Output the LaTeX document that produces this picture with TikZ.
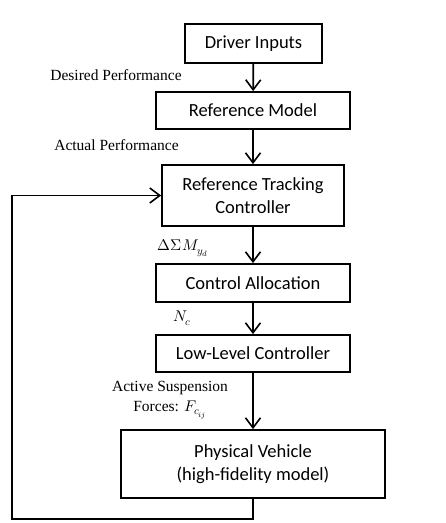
\documentclass[tikz,border=0pt]{standalone}
\usepackage{fontspec}
\usepackage{unicode-math}
\setmainfont{Carlito}
\setmathfont{Latin Modern Math}
\newfontfamily\labelfont{Liberation Serif}
\usetikzlibrary{arrows.meta}

\begin{document}
\begin{tikzpicture}[x=1pt,y=1pt,line width=1.8pt,
    -{Straight Barb[length=10pt,width=15pt,line width=1.6pt]}]
    \tikzstyle{block}=[draw,rectangle,inner sep=0pt,align=center,
        font=\fontsize{18.5}{23}\selectfont]
    \tikzstyle{annot}=[align=center,font=\labelfont\fontsize{15.5}{20}\selectfont]

    \useasboundingbox (0,0) rectangle (446,-523);

    % Draw the blocks of the loop
    \node[block,minimum width=137pt,minimum height=39pt] (drv) at (253.5,-43.5) {Driver Inputs};
    \node[block,minimum width=194pt,minimum height=37pt] (refm) at (253,-110.5) {Reference Model};
    \node[block,minimum width=182pt,minimum height=61pt] (rtc) at (253,-195.5) {Reference Tracking\\Controller};
    \node[block,minimum width=194pt,minimum height=38pt] (calloc) at (253,-283) {Control Allocation};
    \node[block,minimum width=194pt,minimum height=37pt] (llc) at (253,-353.5) {Low-Level Controller};
    \node[block,minimum width=264pt,minimum height=68pt] (veh) at (253,-464) {Physical Vehicle\\(high-fidelity model)};

    % Connect the blocks
    \path (drv) edge (refm)
          (refm) edge (rtc)
          (rtc) edge (calloc)
          (calloc) edge (llc)
          (llc) edge (veh);

    % Feedback from the vehicle
    \coordinate (fb1) at (253,-519);
    \coordinate (fb2) at (12,-519);
    \coordinate (fb3) at (12,-195.5);
    \draw (veh.south) -- (fb1) -- (fb2) -- (fb3) -- (rtc.west);

    % Annotate the signals
    \node[annot] (des) at (116,-75) {Desired Performance};
    \node[annot] (act) at (116.5,-145) {Actual Performance};
    \node[annot] (dsm) at (183,-248) {$\Delta\Sigma M_{y_d}$};
    \node[annot] (nc) at (182,-318) {$N_c$};
    \node[annot] (asf) at (170,-400) {Active Suspension\\Forces: $F_{c_{ij}}$};
\end{tikzpicture}
\end{document}
